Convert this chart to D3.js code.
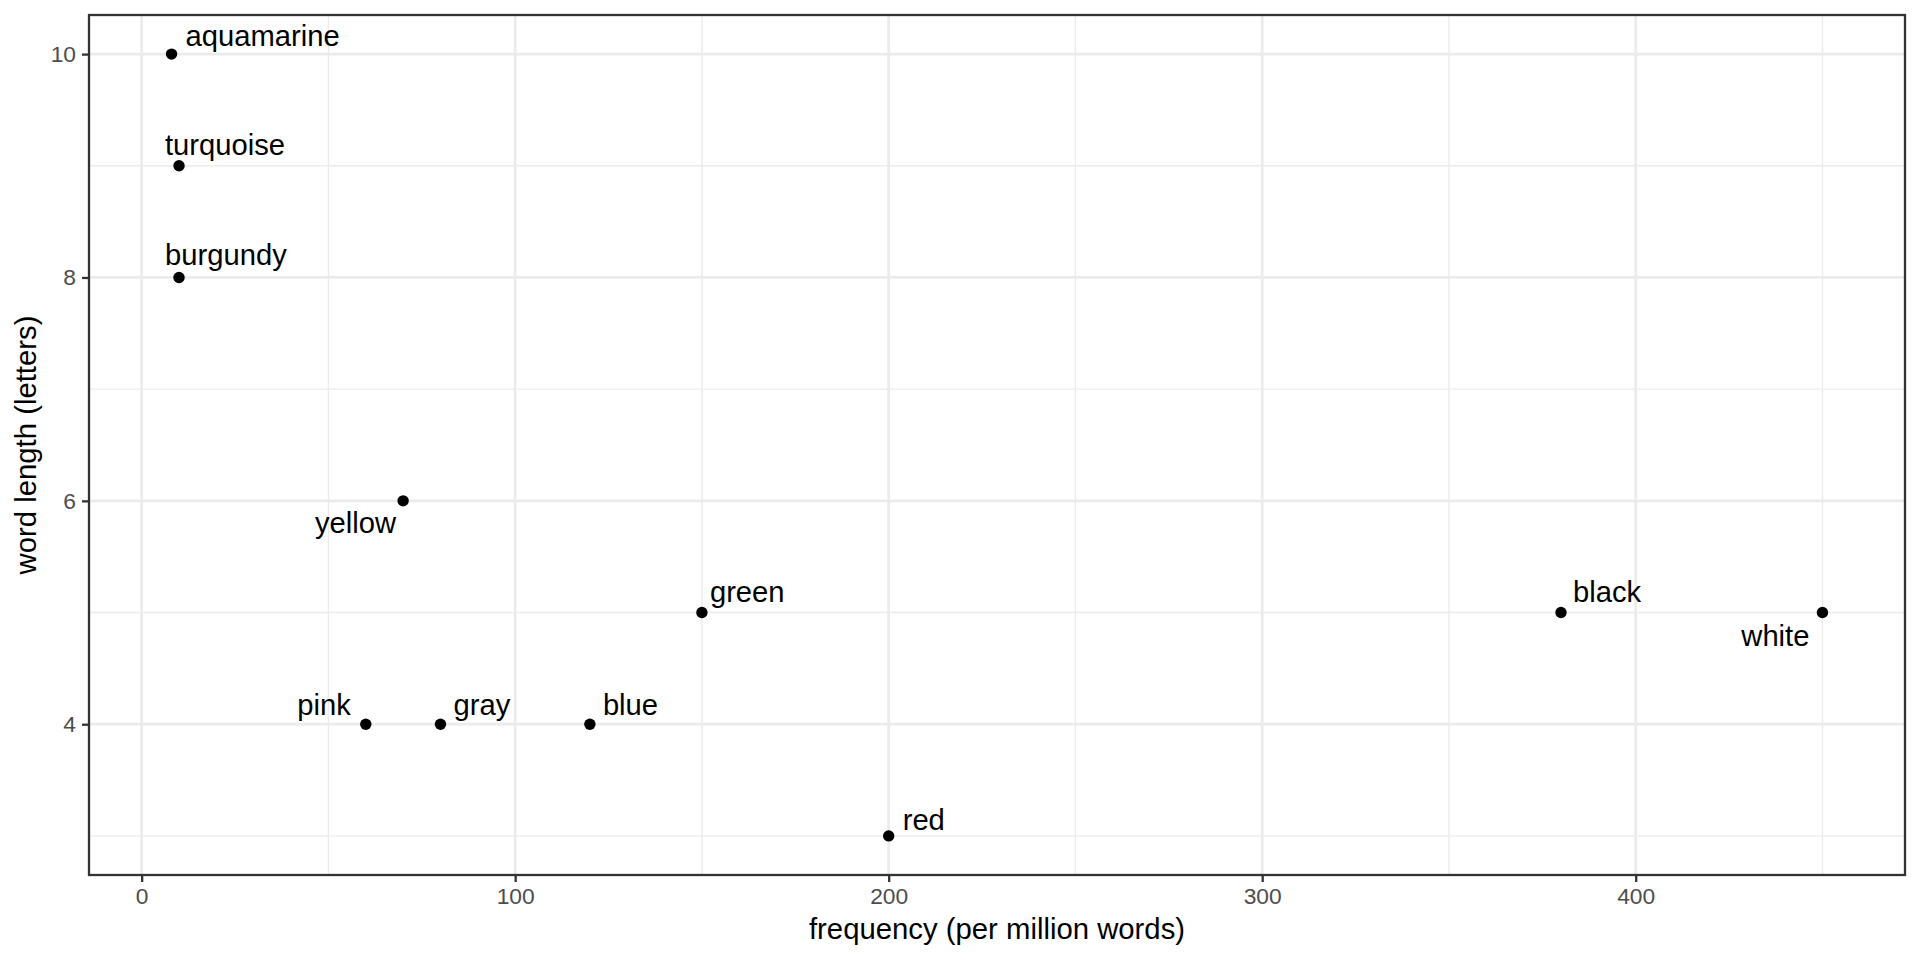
<!DOCTYPE html>
<html>
<head>
<meta charset="utf-8">
<script src="https://cdn.jsdelivr.net/npm/d3@7"></script>
<style>
  body { margin: 0; background: #fff; }
  text { font-family: "Liberation Sans", Arial, sans-serif; }
</style>
</head>
<body>
<div id="chart-area"></div>
<script>
// colour words: frequency vs. length
var words = ["aquamarine", "turquoise", "burgundy", "yellow", "pink", "gray", "blue", "green", "red", "black", "white"];
var frequency = [8, 10, 10, 70, 60, 80, 120, 150, 200, 380, 450];
var wordLength = [10, 9, 8, 6, 4, 4, 4, 5, 3, 5, 5];

var xTicks = [0, 100, 200, 300, 400];
var xMinor = [50, 150, 250, 350, 450];
var yTicks = [4, 6, 8, 10];
var yMinor = [3, 5, 7, 9];

// label placement (px offset from point, text anchor) - mimics the repelled labels
var labelOffset = [
	[14, -8, "start"], [-14, -11, "start"], [-14, -12, "start"], [-7, 32, "end"],
	[-15, -9, "end"], [13, -9, "start"], [13, -9, "start"], [8, -11, "start"],
	[14, -6, "start"], [12, -11, "start"], [-13, 33, "end"]
];

var width = 1920, height = 960;
var margin = {left: 89, right: 15, top: 15, bottom: 85};
var chartWidth = width - margin.left - margin.right;
var chartHeight = height - margin.top - margin.bottom;

var svg = d3.select("#chart-area").append("svg").attr("width", width).attr("height", height);
var graph = svg.append("g").attr("transform", "translate(" + margin.left + "," + margin.top + ")");

function expand(ext) {
	var pad = (ext[1] - ext[0]) * 0.05;
	return [ext[0] - pad, ext[1] + pad];
}

var x = d3.scaleLinear().domain(expand(d3.extent(frequency))).range([0, chartWidth]);
var y = d3.scaleLinear().domain(expand(d3.extent(wordLength))).range([chartHeight, 0]);

// grid
graph.selectAll(".xminor").data(xMinor).enter().append("line")
	.attr("x1", (d) => x(d)).attr("x2", (d) => x(d)).attr("y1", 0).attr("y2", chartHeight)
	.attr("stroke", "#ebebeb").attr("stroke-width", 1.4);
graph.selectAll(".yminor").data(yMinor).enter().append("line")
	.attr("y1", (d) => y(d)).attr("y2", (d) => y(d)).attr("x1", 0).attr("x2", chartWidth)
	.attr("stroke", "#ebebeb").attr("stroke-width", 1.4);
graph.selectAll(".xmajor").data(xTicks).enter().append("line")
	.attr("x1", (d) => x(d)).attr("x2", (d) => x(d)).attr("y1", 0).attr("y2", chartHeight)
	.attr("stroke", "#ebebeb").attr("stroke-width", 2.7);
graph.selectAll(".ymajor").data(yTicks).enter().append("line")
	.attr("y1", (d) => y(d)).attr("y2", (d) => y(d)).attr("x1", 0).attr("x2", chartWidth)
	.attr("stroke", "#ebebeb").attr("stroke-width", 2.7);

// axes
var xAxis = d3.axisBottom(x).tickValues(xTicks).tickSize(7).tickPadding(6);
var yAxis = d3.axisLeft(y).tickValues(yTicks).tickSize(7).tickPadding(6);

var xAxisGroup = graph.append("g").attr("transform", "translate(0," + chartHeight + ")").call(xAxis);
var yAxisGroup = graph.append("g").call(yAxis);

[xAxisGroup, yAxisGroup].forEach((g) => {
	g.select(".domain").remove();
	g.selectAll(".tick line").attr("stroke", "#333333").attr("stroke-width", 2.3);
	g.selectAll(".tick text").attr("fill", "#4d4d4d").attr("font-size", "22.8px")
		.style("font-family", "'Liberation Sans', Arial, sans-serif");
});
xAxisGroup.selectAll(".tick text").attr("dy", "0.72em");

// panel border
graph.append("rect").attr("width", chartWidth).attr("height", chartHeight)
	.attr("fill", "none").attr("stroke", "#333333").attr("stroke-width", 2.3);

// points
var pts = words.map((w, i) => ({word: w, f: frequency[i], len: wordLength[i], off: labelOffset[i]}));

graph.selectAll("circle").data(pts).enter().append("circle")
	.attr("cx", (d) => x(d.f)).attr("cy", (d) => y(d.len)).attr("r", 5.7).attr("fill", "#000");

graph.selectAll(".label").data(pts).enter().append("text")
	.attr("class", "label")
	.attr("x", (d) => x(d.f) + d.off[0]).attr("y", (d) => y(d.len) + d.off[1])
	.attr("text-anchor", (d) => d.off[2])
	.attr("font-size", "29.2px").attr("fill", "#000")
	.text((d) => d.word);

// axis titles
svg.append("text").attr("x", margin.left + chartWidth / 2).attr("y", 939)
	.attr("text-anchor", "middle").attr("font-size", "29.3px").attr("fill", "#000")
	.text("frequency (per million words)");

svg.append("text").attr("transform", "translate(36," + (margin.top + chartHeight / 2) + ") rotate(-90)")
	.attr("text-anchor", "middle").attr("font-size", "29.3px").attr("fill", "#000")
	.text("word length (letters)");
</script>
</body>
</html>
